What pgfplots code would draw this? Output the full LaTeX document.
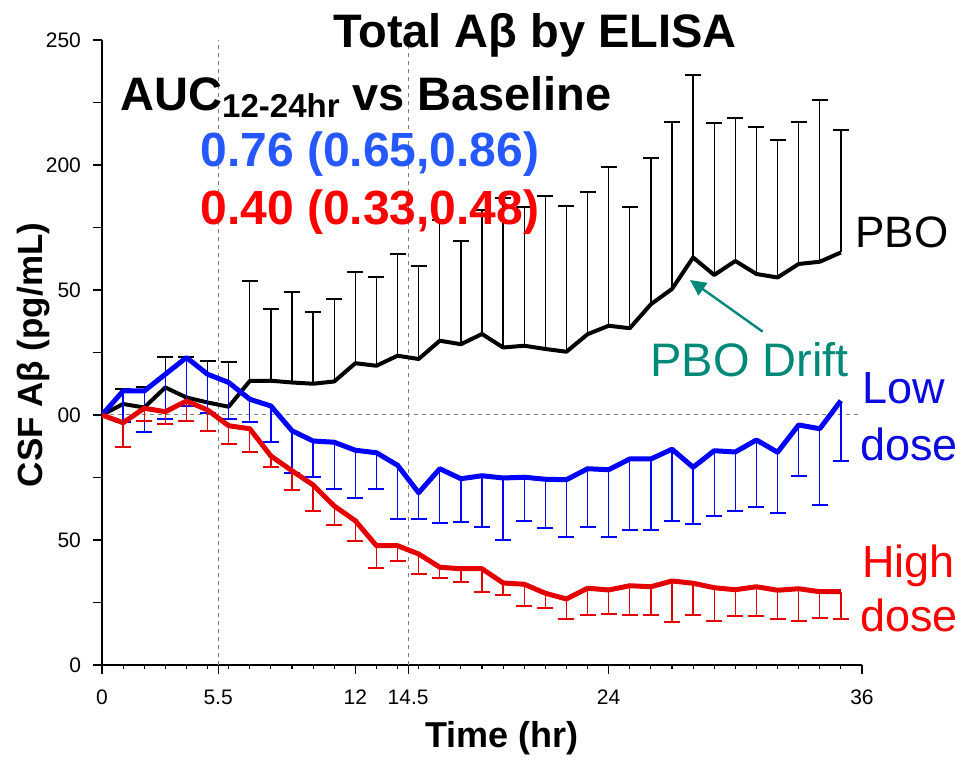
\documentclass[border=0pt]{standalone}
\usepackage{pgfplots}
\pgfplotsset{compat=1.18}
\usepackage{pgfplotstable}
\usepackage{fontspec}
\setmainfont{Liberation Sans}
\usetikzlibrary{arrows.meta}

\definecolor{lowblue}{RGB}{0,0,255}
\definecolor{hired}{RGB}{228,0,0}
\definecolor{aucblue}{RGB}{38,88,255}
\definecolor{tealtxt}{RGB}{0,136,120}
\definecolor{lowtext}{RGB}{10,10,225}
\definecolor{gridgray}{RGB}{128,128,128}

\pgfplotstableread{
t v hi
0 100 100
1 104.4 110.3
2 103 111.3
3 111 123.2
4 107 123.2
5 105 121.7
6 103.3 121
7 113.6 153.6
8 113.7 142.4
9 113 149.3
10 112.5 141
11 113.4 146.5
12 120.7 157
13 119.7 155
14 123.7 164.5
15 122.4 159.6
16 129.7 178
17 128.3 169.5
18 132.4 182
19 127 186.7
20 127.7 183.3
21 126.4 187.7
22 125.3 183.7
23 132.3 189.3
24 135.7 199.2
25 134.7 183
26 144.3 202.8
27 150.4 217
28 163 236
29 156 216.7
30 161.6 218.8
31 156.4 215.2
32 155 209.9
33 160.4 217
34 161.3 226
35 165 214.1
}\pbo

\pgfplotstableread{
t v lo
0 100 100
1 109.6 97
2 109.6 93.3
3 116.3 98.5
4 123 103.6
5 116.3 100.7
6 113 98.3
7 106.3 97.1
8 103.6 89.3
9 93.7 76.8
10 89.6 75.1
11 89.1 70.3
12 85.9 66.7
13 84.9 70.3
14 79.9 58.3
15 68.9 58.5
16 78.5 56.7
17 74.5 57.2
18 75.7 55.1
19 74.8 49.9
20 75.1 57.5
21 74.3 54.9
22 74.1 51.1
23 78.5 55.2
24 78.1 51.3
25 82.4 54.1
26 82.4 54.1
27 86.3 57.5
28 79.1 56.5
29 85.7 59.7
30 85.2 61.5
31 90 63.1
32 85.1 60.7
33 96 75.6
34 94.5 63.9
35 105.7 81.5
}\low

\pgfplotstableread{
t v lo
0 100 100
1 96.9 87.1
2 102.7 97.7
3 101.3 96.4
4 105.6 97.7
5 102 93.5
6 95.7 88.4
7 94.5 85.2
8 83.6 79.2
9 77.7 70
10 72 61.7
11 63.6 55.8
12 57.7 49.7
13 47.7 38.7
14 47.7 41.5
15 44.4 36.4
16 39.1 34.7
17 38.5 33.3
18 38.5 29.3
19 32.8 28
20 32.3 23.6
21 28.7 22.7
22 26.4 18.5
23 30.7 19.9
24 30 20.3
25 31.7 19.9
26 31.3 19.9
27 33.6 17.3
28 32.7 20.1
29 30.9 17.7
30 30.1 19.6
31 31.3 19.5
32 29.9 18.3
33 30.5 17.5
34 29.3 18.7
35 29.3 18.5
}\high

\begin{document}
\begin{tikzpicture}
\path[use as bounding box] (-51pt,-46.5pt) rectangle (426.5pt,332.5pt);
\begin{axis}[
  at={(0,0)}, anchor=south west,
  scale only axis, width=380pt, height=312.5pt,
  xmin=0, xmax=36, ymin=0, ymax=250,
  axis x line=bottom, axis y line=left,
  axis line style={-, line width=0.75pt},
  tick align=outside,
  xtick={0,5.5,12,14.5,24,36},
  xticklabels={0,5.5,12,14.5,24,36},
  minor xtick={1,...,35},
  ytick={0,25,...,250},
  yticklabels={0,,50,,100,,150,,200,,250},
  major tick length=4.5pt, minor tick length=2pt,
  tick style={line width=0.6pt, black},
  tick label style={font=\fontsize{10.5}{12}\selectfont},
  xticklabel style={yshift=-4.5pt},
  yticklabel style={xshift=-2.5pt},
]
\draw[gridgray, line width=0.5pt, dash pattern=on 2pt off 2pt] (axis cs:5.5,0) -- (axis cs:5.5,250);
\draw[gridgray, line width=0.5pt, dash pattern=on 2pt off 2pt] (axis cs:14.5,0) -- (axis cs:14.5,250);
\draw[gridgray, line width=0.5pt, dash pattern=on 2pt off 2pt] (axis cs:0,100) -- (axis cs:36,100);

% PBO
\addplot[draw=none, no marks, skip coords between index={0}{1},
  error bars/.cd, y dir=plus, y explicit,
  error bar style={draw=black, solid, line width=0.7pt},
  error mark options={draw=black, solid, rotate=90, mark size=4pt, line width=1pt}]
  table[x=t, y=v, y error plus expr=\thisrow{hi}-\thisrow{v}] {\pbo};
\addplot[black, line width=2pt, no marks, line join=round] table[x=t, y=v] {\pbo};

% Low dose
\addplot[draw=none, no marks, skip coords between index={0}{1},
  error bars/.cd, y dir=minus, y explicit,
  error bar style={draw=lowblue, solid, line width=0.7pt},
  error mark options={draw=lowblue, solid, rotate=90, mark size=4pt, line width=1pt}]
  table[x=t, y=v, y error minus expr=\thisrow{v}-\thisrow{lo}] {\low};
\addplot[lowblue, line width=2.5pt, no marks, line join=round] table[x=t, y=v] {\low};

% High dose
\addplot[draw=none, no marks, skip coords between index={0}{1},
  error bars/.cd, y dir=minus, y explicit,
  error bar style={draw=hired, solid, line width=0.7pt},
  error mark options={draw=hired, solid, rotate=90, mark size=4pt, line width=1pt}]
  table[x=t, y=v, y error minus expr=\thisrow{v}-\thisrow{lo}] {\high};
\addplot[hired, line width=2.5pt, no marks, line join=round] table[x=t, y=v] {\high};
\end{axis}

\begin{scope}[x=0.5pt, y=-0.5pt, shift={(-51pt,332.5pt)}]
\node[anchor=base, inner sep=0, font=\fontsize{23.5}{27}\selectfont\bfseries] at (535,48) {Total Aβ by ELISA};
\node[anchor=base west, inner sep=0, font=\fontsize{23.5}{27}\selectfont\bfseries] at (120,111) {AUC\raisebox{-3.5pt}{\fontsize{16.5}{18}\selectfont\bfseries 12-24hr} vs Baseline};
\node[anchor=base west, inner sep=0, text=aucblue, font=\fontsize{24}{27}\selectfont\bfseries] at (200,167) {0.76 (0.65,0.86)};
\node[anchor=base west, inner sep=0, text=red, font=\fontsize{24}{27}\selectfont\bfseries] at (200,225) {0.40 (0.33,0.48)};
\node[anchor=base west, inner sep=0, font=\fontsize{22}{26}\selectfont] at (855,248) {PBO};
\node[anchor=base west, inner sep=0, text=tealtxt, font=\fontsize{23.5}{27}\selectfont] at (650,377) {PBO Drift};
\draw[tealtxt, line width=1.2pt, -{Triangle[length=8pt,width=7.5pt]}] (762.7,331.7) -- (690,280);
\node[anchor=base west, inner sep=0, text=lowtext, font=\fontsize{22.5}{26}\selectfont] at (862,404) {Low};
\node[anchor=base west, inner sep=0, text=lowtext, font=\fontsize{22.5}{26}\selectfont] at (860,461) {dose};
\node[anchor=base west, inner sep=0, text=red, font=\fontsize{22.5}{26}\selectfont] at (862,578) {High};
\node[anchor=base west, inner sep=0, text=red, font=\fontsize{22.5}{26}\selectfont] at (860,632) {dose};
\node[anchor=base, inner sep=0, font=\fontsize{18}{21}\selectfont\bfseries] at (502,748) {Time (hr)};
\node[anchor=base, rotate=90, fill=white, inner sep=3.5pt, font=\fontsize{17.5}{20}\selectfont\bfseries] at (42.5,355) {CSF Aβ (pg/mL)};
\end{scope}
\end{tikzpicture}
\end{document}
